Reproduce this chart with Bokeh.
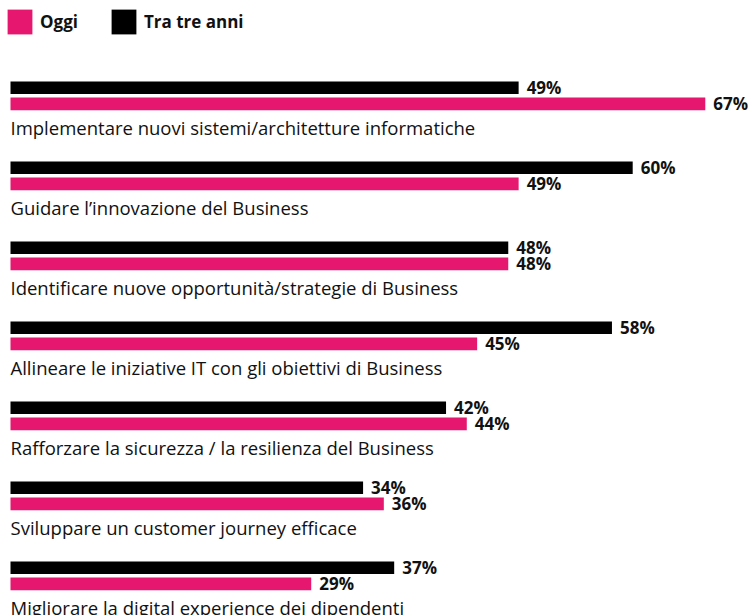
from bokeh.plotting import figure
from bokeh.models import Range1d, ColumnDataSource, Legend, LegendItem
from bokeh.core.properties import value
from bokeh.embed import file_html
from bokeh.resources import INLINE

categories = [
    "Implementare nuovi sistemi/architetture informatiche",
    "Guidare l\u2019innovazione del Business",
    "Identificare nuove opportunit\u00e0/strategie di Business",
    "Allineare le iniziative IT con gli obiettivi di Business",
    "Rafforzare la sicurezza / la resilienza del Business",
    "Sviluppare un customer journey efficace",
    "Migliorare la digital experience dei dipendenti",
]
oggi = [67, 49, 48, 45, 44, 36, 29]
tra_tre_anni = [49, 60, 48, 58, 42, 34, 37]
series_names = ["Oggi", "Tra tre anni"]

PINK = "#E6176F"
BLACK = "#000000"
FONT = "Open Sans"

W, H = 749, 615
PX_PER_PCT = 10.37
x0 = -10 / PX_PER_PCT
STEP = 80

idx = list(range(len(categories)))
src = ColumnDataSource(dict(
    cat=categories,
    oggi=oggi,
    tra=tra_tre_anni,
    oggi_lbl=[f"{v}%" for v in oggi],
    tra_lbl=[f"{v}%" for v in tra_tre_anni],
    y_tra=[87.25 + STEP * i for i in idx],
    y_oggi=[103.4 + STEP * i for i in idx],
    y_cat=[126.5 + STEP * i for i in idx],
))

p = figure(width=W, height=H,
           x_range=Range1d(x0, x0 + W / PX_PER_PCT),
           y_range=Range1d(H, 0),
           output_backend="svg", toolbar_location=None,
           x_axis_location=None, y_axis_location=None,
           min_border=0, outline_line_color=None)
p.grid.visible = False

r_tra = p.hbar(y="y_tra", left=0, right="tra", height=12.5, source=src,
               fill_color=BLACK, line_color=None)
r_oggi = p.hbar(y="y_oggi", left=0, right="oggi", height=12.8, source=src,
                fill_color=PINK, line_color=None)

p.text(x="tra", y="y_tra", text="tra_lbl", source=src, x_offset=8,
       text_baseline="middle", text_align="left",
       text_font=value(FONT), text_font_style="bold", text_font_size="17px",
       text_color="#111111")
p.text(x="oggi", y="y_oggi", text="oggi_lbl", source=src, x_offset=8,
       text_baseline="middle", text_align="left",
       text_font=value(FONT), text_font_style="bold", text_font_size="17px",
       text_color="#111111")
p.text(x=0, y="y_cat", text="cat", source=src, x_offset=0,
       text_baseline="alphabetic", text_align="left",
       text_font=value(FONT), text_font_size="18.5px", text_color="#111111")

GL = 31
legend = Legend(items=[LegendItem(label=series_names[0], renderers=[r_oggi]),
                       LegendItem(label=series_names[1], renderers=[r_tra])],
                orientation="horizontal", location=(4, H - 6 - GL),
                glyph_width=GL, glyph_height=GL, label_standoff=5, spacing=30,
                padding=0, margin=0, border_line_color=None,
                background_fill_alpha=0,
                label_text_font=FONT, label_text_font_style="bold",
                label_text_font_size="17px", label_text_color="#111111")
p.add_layout(legend)

open("out.html", "w").write(file_html(p, INLINE))
